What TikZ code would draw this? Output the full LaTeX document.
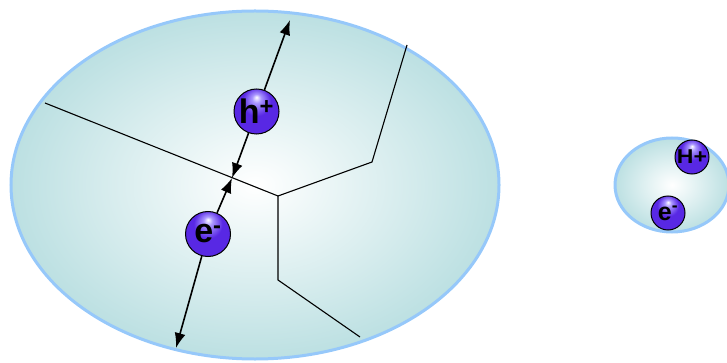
\documentclass[tikz,border=0pt]{standalone}
\usepackage{fontspec}
\setmainfont{Liberation Sans}
\usetikzlibrary{arrows.meta}
\definecolor{rimblue}{RGB}{150,200,250}
\definecolor{grainteal}{RGB}{188,224,226}
\definecolor{ballA}{RGB}{170,150,255}
\definecolor{ballB}{RGB}{88,40,228}
\definecolor{ballC}{RGB}{60,15,180}
\pgfdeclareradialshading{purpball}{\pgfpoint{0bp}{16bp}}{%
  color(0bp)=(white); color(5bp)=(ballA); color(16bp)=(ballB); color(38bp)=(ballB); color(50bp)=(ballC)}
\tikzset{
  grain/.style={draw=rimblue, line width=3pt, inner color=white, outer color=grainteal},
  gb/.style={draw=black, line width=1.1pt},
  carrier/.style={circle, draw=black, line width=1pt, shading=purpball, minimum size=#1, inner sep=0pt, font=\bfseries},
  mig/.style={draw=black, line width=1.6pt, -{Latex[length=15pt,width=11pt]}}
}
\newcommand{\chg}[2]{\raisebox{-#1}{#2}}
\begin{document}
\begin{tikzpicture}[x=1pt,y=-1pt]
\useasboundingbox (0,0) rectangle (727,363);
\clip (0,0) rectangle (727,363);
% big grain
\shade[grain] (255,185) ellipse [x radius=244, y radius=174];
% small grain
\shade[grain] (672,185) ellipse [x radius=57, y radius=47];
% grain boundaries
\coordinate (g1) at (45,103);
\coordinate (j2) at (278,196);
\coordinate (g3) at (372,162);
\coordinate (g4) at (407,45);
\coordinate (g5) at (278,280);
\coordinate (g6) at (360,337);
\draw[gb] (g1) -- (j2) -- (g3) -- (g4);
\draw[gb] (j2) -- (g5) -- (g6);
% carriers in big grain
\coordinate (j) at (232,178);
\coordinate (t) at (290,20);
\coordinate (b) at (176,348);
\node[carrier=45pt, font=\bfseries\fontsize{34}{34}\selectfont] (h) at (256.5,111.5) {\chg{3pt}{h\textsuperscript{+}}};
\node[carrier=45pt, font=\bfseries\fontsize{34}{34}\selectfont] (e) at (208,234) {\chg{3pt}{e\textsuperscript{-}}};
\draw[mig] (h) -- (t);
\draw[mig] (h) -- (j);
\draw[mig] (e) -- (j);
\draw[mig] (e) -- (b);
% carriers in small grain
\node[carrier=34pt, font=\bfseries\fontsize{20}{20}\selectfont] (H) at (692,157) {\scalebox{1.15}[1]{H+}};
\node[carrier=34pt, font=\bfseries\fontsize{25}{25}\selectfont] (e2) at (668,213) {\chg{2pt}{e\textsuperscript{-}}};
\end{tikzpicture}
\end{document}
